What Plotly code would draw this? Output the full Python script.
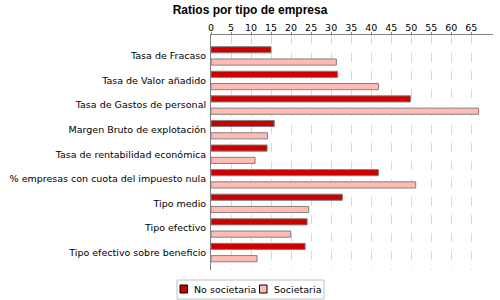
import plotly.graph_objects as go

categorias = [
    'Tasa de Fracaso',
    'Tasa de Valor añadido',
    'Tasa de Gastos de personal',
    'Margen Bruto de explotación',
    'Tasa de rentabilidad económica',
    '% empresas con cuota del impuesto nula',
    'Tipo medio',
    'Tipo efectivo',
    'Tipo efectivo sobre beneficio',
]
no_societaria = [15.0, 31.6, 49.8, 15.8, 14.0, 41.8, 32.8, 24.0, 23.5]
societaria = [31.3, 41.8, 66.8, 14.1, 11.0, 51.1, 24.4, 19.9, 11.5]
ticks_x = [0, 5, 10, 15, 20, 25, 30, 35, 40, 45, 50, 55, 60, 65]

series = [('No societaria', no_societaria, '#CC0000'),
          ('Societaria', societaria, '#FFBBB4')]

fuente = 'DejaVu Sans'
borde = '#808080'

fig = go.Figure()
for nombre, valores, color in series:
    fig.add_trace(go.Bar(
        y=categorias, x=valores, name=nombre, orientation='h',
        marker=dict(color=color, line=dict(color=borde, width=1)),
        showlegend=False,
    ))

# leyenda dibujada a mano (caja abajo, centrada en la figura)
W, H = 500, 300
L, R, T, B = 211, 7, 35, 30
pw, ph = W - L - R, H - T - B
px = lambda x: (x - L) / pw
py = lambda y: (H - B - y) / ph

shapes = [dict(type='rect', xref='paper', yref='paper',
               x0=px(177), x1=px(324), y0=py(299), y1=py(280),
               line=dict(color='#C0C0C0', width=1), fillcolor='white')]
annotations = []
leyenda_x = [(180, 192), (259.5, 272)]
for (nombre, _, color), (sx, tx) in zip(series, leyenda_x):
    shapes.append(dict(type='rect', xref='paper', yref='paper',
                       x0=px(sx), x1=px(sx + 7.5), y0=py(293), y1=py(285),
                       line=dict(color='black', width=1), fillcolor=color))
    annotations.append(dict(text=nombre, xref='paper', yref='paper',
                            x=px(tx), y=py(289), xanchor='left', yanchor='middle',
                            showarrow=False, font=dict(family=fuente, size=9.5)))

fig.update_layout(
    width=W, height=H,
    margin=dict(l=L, r=R, t=T, b=B, autoexpand=False),
    paper_bgcolor='white', plot_bgcolor='white',
    barmode='group', bargap=0.0, bargroupgap=0.5,
    title=dict(text='<b>Ratios por tipo de empresa</b>', x=0.5, xanchor='center',
               y=0.98, yanchor='top',
               font=dict(family='Liberation Sans', size=12, color='black')),
    font=dict(family=fuente, size=9.5, color='black'),
    showlegend=False,
    shapes=shapes,
    annotations=annotations,
)

fig.update_xaxes(
    side='top', range=[0, 70.4], tickvals=ticks_x, automargin=False,
    showline=True, linecolor=borde, linewidth=1,
    ticks='outside', ticklen=2, tickcolor=borde, ticklabelstandoff=-3,
    showgrid=True, gridcolor='#D8D8D8', griddash='dash', gridwidth=1,
    zeroline=False,
)
fig.update_yaxes(
    autorange=False, range=[8.71, -0.85], automargin=False,
    showline=True, linecolor=borde, linewidth=1,
    ticks='', ticklabelstandoff=2, showgrid=False,
)

# sin el margen por defecto del body, la figura ocupa toda la ventana
fig.write_html('out.html', config={'displayModeBar': False},
               post_script="document.body.style.margin='0px';")
